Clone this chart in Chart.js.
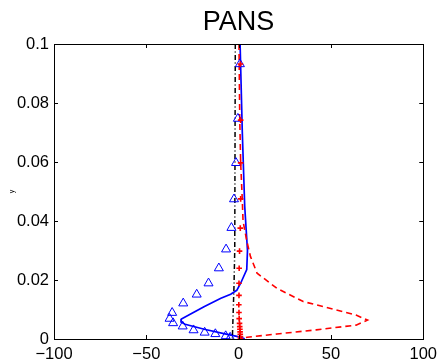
<!DOCTYPE html>
<html>
<head>
<meta charset="utf-8">
<script src="https://cdn.jsdelivr.net/npm/chart.js@4/dist/chart.umd.min.js"></script>
<style>
  html, body { margin: 0; padding: 0; background: #fff; overflow: hidden; }
  canvas { display: block; }
</style>
</head>
<body>
<canvas id="pansChart" width="443" height="361"></canvas>
<script>
// Ejes
const xTicks = [-100, -50, 0, 50, 100];
const yTicks = [0, 0.02, 0.04, 0.06, 0.08, 0.1];

// Curva azul continua (PANS)
const blueY = [0.1, 0.07, 0.045, 0.03, 0.0235, 0.0189, 0.0165, 0.0152, 0.0138, 0.011, 0.0088, 0.0068, 0.0058, 0.005, 0.0033, 0.0018, 0.0009, 0.0002, 0];
const blueX = [0.8, 2.0, 3.3, 4.8, 4.4, 1.1, -1.0, -4.3, -9.6, -18.5, -25, -31, -31.2, -29, -18.6, -8, -1, 2.9, 3.2];

// Curva roja discontinua
const redY = [0.1, 0.075, 0.06, 0.047, 0.04, 0.0336, 0.028, 0.0223, 0.0172, 0.0127, 0.0104, 0.0081, 0.0064, 0.0047, 0.0031, 0.0017, 0.0006, 0];
const redX = [0.2, 0.6, 1.1, 2.0, 2.4, 4.3, 6.4, 10, 20.7, 35, 49.3, 63.6, 69.8, 63.6, 42, 20.7, 4.7, 1];

// Curva negra punto-raya
const blackY = [0.1, 0.03, 0.018, 0.008, 0];
const blackX = [-1.8, -2.1, -2.5, -3.0, -3.4];

// Triángulos azules
const triY = [0.0932, 0.0747, 0.0597, 0.0474, 0.0377, 0.0304, 0.024, 0.0189, 0.0151, 0.0121, 0.0089, 0.0069, 0.0054, 0.0043, 0.003, 0.0022, 0.0017, 0.001, 0.0005];
const triX = [0.7, -0.4, -1.4, -2.5, -3.9, -6.8, -10.7, -16.3, -22.7, -30, -36, -37.4, -35.5, -30.3, -24.4, -18.4, -12.6, -7, -4.6];

// Cruces rojas
const plusY = [0.0932, 0.0742, 0.0597, 0.0475, 0.0376, 0.0298, 0.024, 0.0189, 0.0148, 0.0116, 0.009, 0.0069, 0.0053, 0.0042, 0.0033, 0.0024, 0.0016, 0.0008, 0.0001];
const plusX = [1.0, 1.1, 1.1, 1.1, 0.9, 0.5, 0.3, 0.2, 0.2, 0.1, 0.2, 0.3, 0.5, 0.6, 0.7, 0.8, 0.9, 1.0, 1.0];

const toPoints = (xs, ys) => xs.map((x, i) => ({ x: x, y: ys[i] }));

// Marco, marcas hacia dentro, título y etiqueta "y"
const matlabAxes = {
  id: "matlabAxes",
  afterDatasetsDraw(chart) {
    const { ctx, chartArea: a, scales } = chart;
    ctx.save();
    ctx.strokeStyle = "#000";
    ctx.lineWidth = 1;
    ctx.beginPath();
    xTicks.forEach((v) => {
      const px = Math.round(scales.x.getPixelForValue(v)) + 0.5;
      ctx.moveTo(px, a.bottom); ctx.lineTo(px, a.bottom - 4);
      ctx.moveTo(px, a.top); ctx.lineTo(px, a.top + 4);
    });
    yTicks.forEach((v) => {
      const py = Math.round(scales.y.getPixelForValue(v)) + 0.5;
      ctx.moveTo(a.left, py); ctx.lineTo(a.left + 4, py);
      ctx.moveTo(a.right, py); ctx.lineTo(a.right - 4, py);
    });
    ctx.stroke();
    ctx.strokeRect(Math.round(a.left) + 0.5, Math.round(a.top) + 0.5,
      Math.round(a.right - a.left), Math.round(a.bottom - a.top));

    ctx.fillStyle = "#000";
    ctx.font = '27px "Liberation Sans", Arial, sans-serif';
    ctx.textAlign = "center";
    ctx.textBaseline = "alphabetic";
    ctx.fillText("PANS", (a.left + a.right) / 2, 30);

    ctx.translate(12, (a.top + a.bottom) / 2);
    ctx.rotate(-Math.PI / 2);
    ctx.font = '7px "Liberation Sans", Arial, sans-serif';
    ctx.textBaseline = "middle";
    ctx.fillText("y", 0, 0);
    ctx.restore();
  },
};

const tickFont = { family: '"Liberation Sans", Arial, sans-serif', size: 16.5 };

new Chart(document.getElementById("pansChart"), {
  type: "scatter",
  data: {
    datasets: [
      {
        data: toPoints(plusX, plusY),
        showLine: false,
        pointStyle: "cross",
        pointRadius: 2.8,
        pointBorderWidth: 1.6,
        borderColor: "#ff0000",
        backgroundColor: "#ff0000",
      },
      {
        data: toPoints(triX, triY),
        showLine: false,
        pointStyle: "triangle",
        pointRadius: 5.2,
        pointBorderWidth: 1,
        borderColor: "#0000ff",
        backgroundColor: "rgba(0,0,0,0)",
      },
      {
        data: toPoints(redX, redY),
        showLine: true,
        pointRadius: 0,
        borderColor: "#ff0000",
        borderWidth: 1.6,
        borderDash: [6, 4],
        tension: 0,
      },
      {
        data: toPoints(blackX, blackY),
        showLine: true,
        pointRadius: 0,
        borderColor: "#000000",
        borderWidth: 1.5,
        borderDash: [5, 2.5, 1, 2.5],
        tension: 0,
      },
      {
        data: toPoints(blueX, blueY),
        showLine: true,
        pointRadius: 0,
        borderColor: "#0000ff",
        borderWidth: 1.7,
        tension: 0,
      },
    ],
  },
  options: {
    responsive: false,
    animation: false,
    devicePixelRatio: 1,
    layout: { padding: { top: 44, right: 15, bottom: 0, left: 0 } },
    plugins: { legend: { display: false }, tooltip: { enabled: false }, title: { display: false } },
    scales: {
      x: {
        type: "linear",
        min: -100,
        max: 100,
        afterBuildTicks: (s) => { s.ticks = xTicks.map((v) => ({ value: v })); },
        afterFit: (s) => { s.height = 22; },
        grid: { display: false, drawTicks: false },
        border: { display: false },
        ticks: {
          color: "#000",
          font: tickFont,
          padding: 6,
          maxRotation: 0,
          autoSkip: false,
          callback: (v) => (v < 0 ? "\u2212" + Math.abs(v) : String(v)),
        },
      },
      y: {
        type: "linear",
        min: 0,
        max: 0.1,
        afterBuildTicks: (s) => { s.ticks = yTicks.map((v) => ({ value: v })); },
        afterFit: (s) => { s.width = 54; },
        grid: { display: false, drawTicks: false },
        border: { display: false },
        ticks: {
          color: "#000",
          font: tickFont,
          padding: 5,
          autoSkip: false,
          callback: (v) => String(+v.toFixed(2)),
        },
      },
    },
  },
  plugins: [matlabAxes],
});
</script>
</body>
</html>
